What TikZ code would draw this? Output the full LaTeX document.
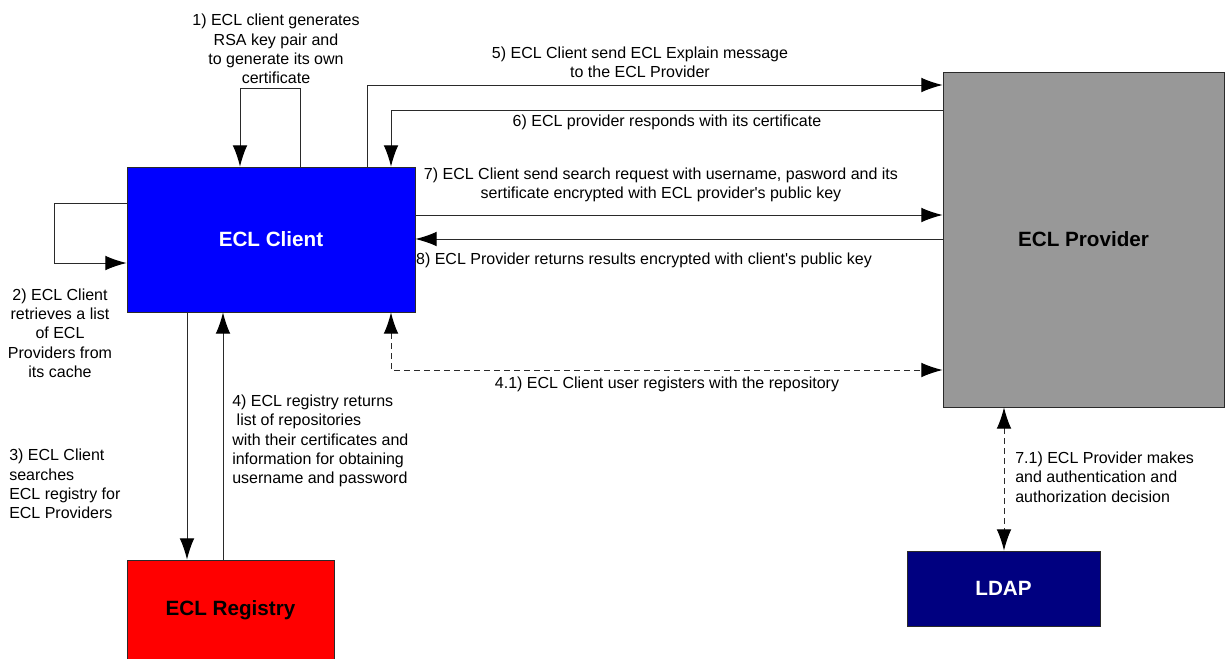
\documentclass[tikz,border=0pt]{standalone}
\usepackage{fontspec}
\setmainfont{Liberation Sans}
\usetikzlibrary{arrows.meta,calc}
\definecolor{ClientBlue}{HTML}{0000FF}
\definecolor{ProviderGray}{HTML}{989898}
\definecolor{RegistryRed}{HTML}{FF0000}
\definecolor{LdapNavy}{HTML}{000080}
\definecolor{WireGray}{HTML}{2A2A2A}

\begin{document}
\begin{tikzpicture}[x=0.75pt, y=-0.75pt, >={Latex[length=16pt,width=11pt,color=black]},
  font=\fontsize{12}{14.5}\selectfont,
  box/.style={draw=WireGray, line width=0.6pt, inner sep=0pt,
    font=\fontsize{15.5}{18}\selectfont\bfseries},
  flow/.style={->, WireGray, line width=0.75pt},
  regflow/.style={<->, WireGray, line width=0.75pt, dash pattern=on 4.5pt off 3pt},
  note/.style={align=center, inner sep=0pt}]
  \useasboundingbox (0,0) rectangle (1225,658);

  \node[box, fill=ClientBlue, text=white, minimum width=216pt, minimum height=108.75pt]
    (client) at (271,239.5) {ECL Client};
  \node[box, fill=ProviderGray, minimum width=210.75pt, minimum height=251.25pt]
    (provider) at (1083.5,239.5) {ECL Provider};
  \node[box, fill=RegistryRed, minimum width=155.25pt, minimum height=75pt]
    (registry) at (230.5,610) {ECL Registry};
  \node[box, fill=LdapNavy, text=white, minimum width=144.75pt, minimum height=56.25pt]
    (ldap) at (1003.5,588.5) {LDAP};

  \draw[flow] (client.north -| 300,0) -- ++(0,-78) -| (client.north -| 240,0);
  \node[note] (keygen) at (276,49)
    {1) ECL client generates\\RSA key pair and\\to generate its own\\certificate};

  \draw[flow] (client.west |- 0,203) -- ++(-72,0) |- (client.west |- 0,263);
  \node[note] (cache) at (60,333)
    {2) ECL Client\\retrieves a list\\of ECL\\Providers from\\its cache};

  \draw[flow] (client.south -| 187,0) -- (registry.north -| 187,0);
  \node[note, align=left, anchor=west] (search) at (9,484)
    {3) ECL Client\\searches\\ECL registry for\\ECL Providers};
  \draw[flow] (registry.north -| 223,0) -- (client.south -| 223,0);
  \node[note, align=left, anchor=west] (repolist) at (232,441)
    {4) ECL registry returns\\\ list of repositories\\with their certificates and\\information for obtaining\\username and password};

  \draw[regflow] (client.south -| 391,0) |- (provider.west |- 0,370);
  \node[note] (register) at (667,384) {4.1) ECL Client user registers with the repository};

  \draw[flow] (client.north -| 367,0) |- (provider.west |- 0,85);
  \node[note] (explain) at (640,62)
    {5) ECL Client send ECL Explain message\\to the ECL Provider};
  \draw[flow] (provider.west |- 0,110) -| (client.north -| 391,0);
  \node[note] (cert) at (667,122) {6) ECL provider responds with its certificate};

  \draw[flow] (client.east |- 0,215) -- (provider.west |- 0,215);
  \node[note] (request) at (661,185)
    {7) ECL Client send search request with username, pasword and its\\sertificate encrypted with ECL provider\textquotesingle s public key};
  \draw[flow] (provider.west |- 0,239) -- (client.east |- 0,239);
  \node[note] (results) at (644,260)
    {8) ECL Provider returns results encrypted with client\textquotesingle s public key};

  \draw[regflow] (provider.south -| 1004,0) -- (ldap.north -| 1004,0);
  \node[note, align=left, anchor=west] (authz) at (1015,477)
    {7.1) ECL Provider makes\\and authentication and\\authorization decision};
\end{tikzpicture}
\end{document}
